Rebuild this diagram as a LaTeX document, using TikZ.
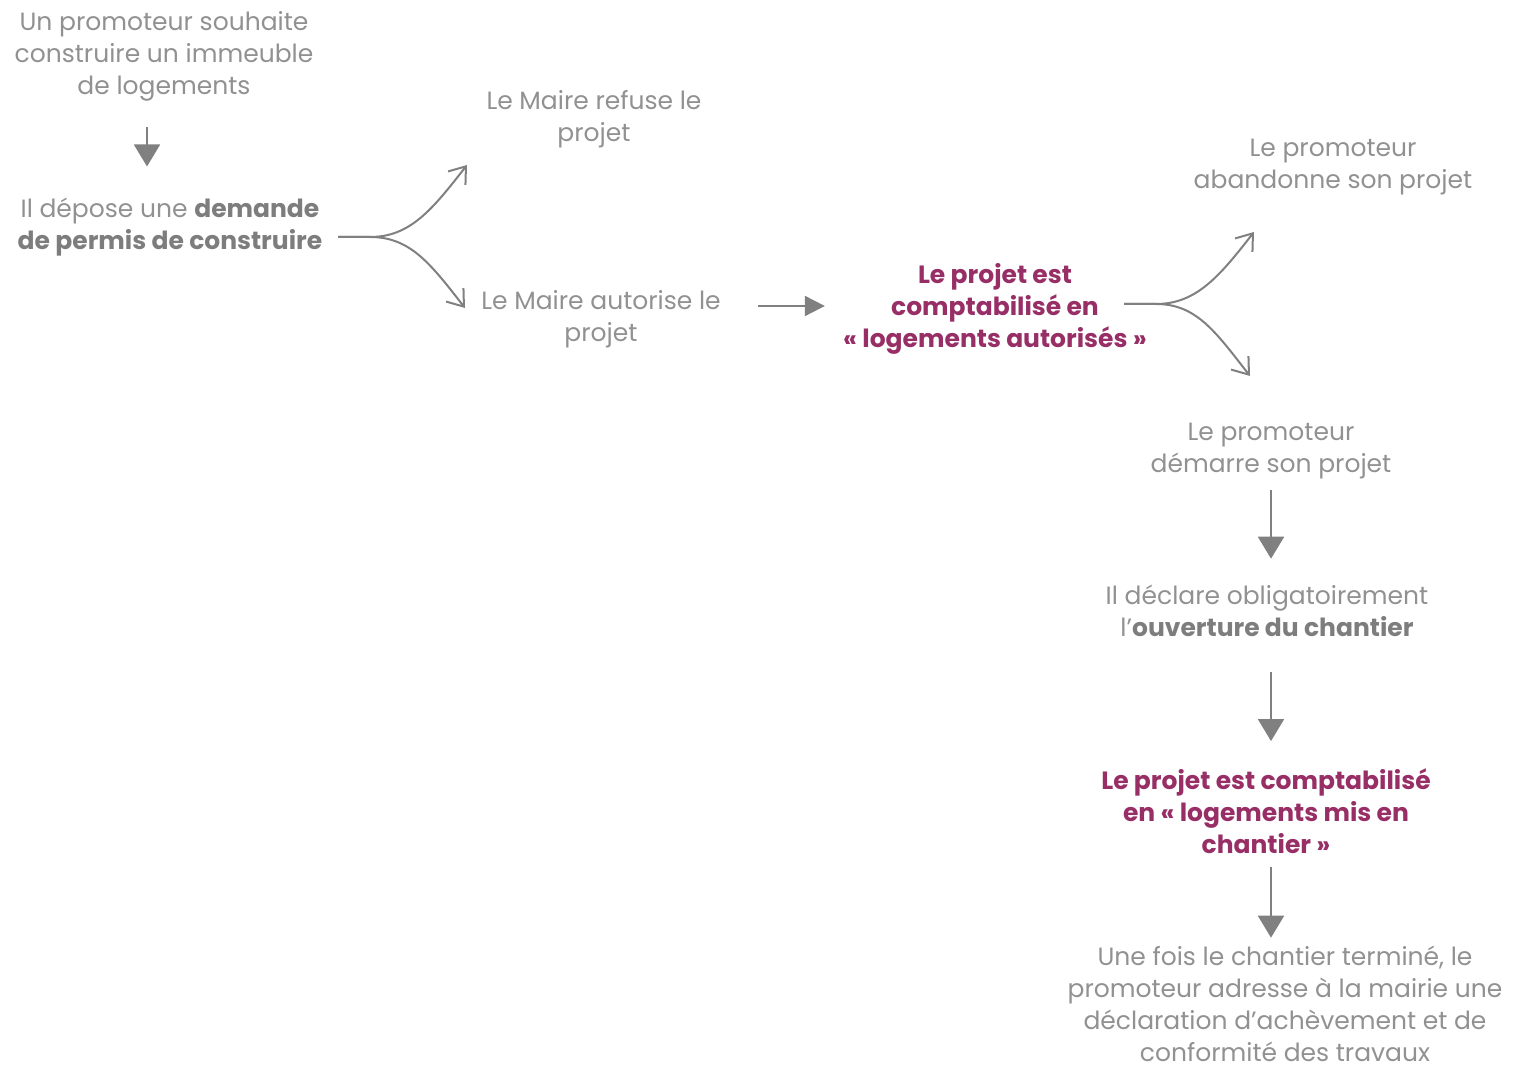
\documentclass[tikz,border=0pt]{standalone}
\usepackage{fontspec}
\setmainfont{Poppins}
\usepackage{tikz}
\usetikzlibrary{arrows.meta}
\definecolor{txtgray}{RGB}{145,145,145}
\definecolor{boldgray}{RGB}{125,125,125}
\definecolor{arrgray}{RGB}{128,128,128}
\definecolor{projpurple}{RGB}{152,46,102}

\begin{document}
\begin{tikzpicture}[
    x=0.5pt, y=-0.5pt,
    every node/.style={align=center, inner sep=0pt, font=\fontsize{12.5}{16}\selectfont},
    txt/.style={text=txtgray},
    hl/.style={text=projpurple, font=\fontsize{12.5}{16}\selectfont\bfseries},
    arrow/.style={-{Triangle[length=11pt, width=13pt]}, line width=1pt, draw=arrgray},
    arrow_small/.style={-{Triangle[length=10pt, width=10pt]}, line width=1pt, draw=arrgray},
    fork_arrow/.style={-{Straight Barb[length=7.5pt, width=11pt]}, line width=1pt, draw=arrgray}
]
\useasboundingbox (0,0) rectangle (1517,1068);

% Left part: request
\node[txt] (promoteur) at (164,56) {Un promoteur souhaite\\construire un immeuble\\de logements};
\node[txt] (depot) at (170,227) {Il dépose une \textcolor{boldgray}{\bfseries demande}\\\textcolor{boldgray}{\bfseries de permis de construire}};

% Mayor's decision
\node[txt] (refus) at (594,119) {Le Maire refuse le\\projet};
\node[txt] (autorise) at (601,319) {Le Maire autorise le\\projet};
\node[hl] (autorises) at (995,309) {Le projet est\\comptabilisé en\\«~logements autorisés~»};

% Developer's choice
\node[txt] (abandon) at (1333,167) {Le promoteur\\abandonne son projet};
\node[txt] (demarre) at (1271,451) {Le promoteur\\démarre son projet};
\node[txt] (ouverture) at (1267,611) {Il déclare obligatoirement\\l’\textcolor{boldgray}{\bfseries ouverture du chantier}};
\node[hl] (chantier) at (1266,811) {Le projet est comptabilisé\\en «~logements mis en\\chantier~»};
\node[txt] (achevement) at (1285,1004) {Une fois le chantier terminé, le\\promoteur adresse à la mairie une\\déclaration d’achèvement et de\\conformité des travaux};

% Fork points and ends
\coordinate (fork1) at (338,237);
\coordinate (refus_in) at (467,165);
\coordinate (autorise_in) at (465,308);
\coordinate (fork2) at (1124,304);
\coordinate (abandon_in) at (1254,232);
\coordinate (demarre_in) at (1250,376);

% Straight arrows
\draw[arrow, shorten <=13pt, shorten >=15.5pt] ([xshift=-8.5pt]promoteur.south) -- ([xshift=-8.5pt]promoteur.south |- depot.north);
\draw[arrow_small, shorten <=18.5pt, shorten >=9pt] ([yshift=6.5pt]autorise.east) -- ([yshift=6.5pt]autorise.east -| autorises.west);
\draw[arrow, shorten <=5.5pt, shorten >=13pt] (demarre.south) -- (demarre.south |- ouverture.north);
\draw[arrow, shorten <=17.5pt, shorten >=13.5pt] (ouverture.south -| demarre.south) -- (demarre.south |- chantier.north);
\draw[arrow, shorten <=6.5pt, shorten >=4pt] (chantier.south -| demarre.south) -- (demarre.south |- achevement.north);

% Forks
\draw[fork_arrow] (fork1) -- ++(32,0) .. controls +(40,0) and +(-35,45) .. (refus_in);
\draw[fork_arrow] (fork1) -- ++(32,0) .. controls +(40,0) and +(-35,-45) .. (autorise_in);
\draw[fork_arrow] (fork2) -- ++(32,0) .. controls +(40,0) and +(-35,45) .. (abandon_in);
\draw[fork_arrow] (fork2) -- ++(32,0) .. controls +(40,0) and +(-35,-45) .. (demarre_in);

\end{tikzpicture}
\end{document}
